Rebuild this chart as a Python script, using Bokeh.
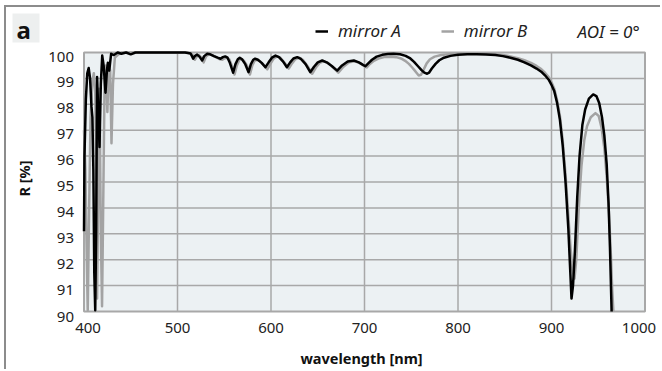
import math
from bokeh.plotting import figure
from bokeh.models import Range1d, Label, Legend, LegendItem, BoxAnnotation
from bokeh.core.properties import value
from bokeh.embed import file_html
from bokeh.resources import INLINE

# ---- data ----
wl_a = [400, 400.5, 402, 403.5, 405, 406.5, 408, 409, 410, 411, 412, 413, 414, 415, 416.6, 418, 419.5,
        421, 423, 424.5, 425.5, 427, 429, 432, 436, 440, 445, 450, 455, 460, 470, 480, 490, 500, 508,
        514, 515.5, 516.8, 518.5, 521, 523.5, 526.4, 528.5, 531.8, 535, 539, 543, 546, 548.5, 551, 553.5,
        556, 559.5, 562, 564.5, 566.6, 569, 572.5, 576, 578.5, 581, 583, 586, 590, 594, 597.5, 601, 604.8,
        608.5, 613, 617, 620.5, 624, 628, 632, 637, 642, 646, 650, 654.8, 659.5, 665, 670.8, 676, 682,
        688.6, 694, 698, 701, 704, 708, 713, 719, 725, 731, 738, 744, 749, 753, 757, 761, 764, 767, 769,
        772, 776, 780, 785, 792, 800, 810, 820, 830, 840, 848, 856, 864, 871, 878, 884, 889, 893, 897,
        900, 903, 906, 909, 912, 915, 918, 920, 921.4, 923, 925, 927.5, 930, 933, 936, 940, 944.6, 948,
        951, 954, 956.5, 959, 961, 962.5, 964.3]
r_a = [93.1, 96.0, 98.2, 99.2, 99.4, 99.0, 97.9, 97.5, 95.5, 91.5, 90.05, 93.0, 99.05, 98.0, 96.35, 98.8, 99.88,
       99.5, 98.45, 99.3, 99.6, 99.3, 99.95, 99.9, 100.0, 99.95, 100.0, 99.93, 100.0, 100.0, 100.0, 100.0, 100.0, 100.0, 100.0,
       99.96, 99.86, 99.76, 99.86, 99.92, 99.84, 99.69, 99.86, 99.95, 99.93, 99.86, 99.8, 99.76, 99.82, 99.85, 99.8,
       99.6, 99.22, 99.55, 99.74, 99.8, 99.74, 99.55, 99.24, 99.55, 99.72, 99.76, 99.72, 99.6, 99.43, 99.62, 99.8, 99.88,
       99.82, 99.65, 99.43, 99.62, 99.77, 99.82, 99.75, 99.55, 99.24, 99.45, 99.62, 99.69, 99.62, 99.48, 99.3, 99.5, 99.65,
       99.69, 99.62, 99.53, 99.47, 99.58, 99.72, 99.84, 99.91, 99.94, 99.95, 99.93, 99.87, 99.77, 99.64, 99.48, 99.32, 99.22, 99.18, 99.22,
       99.38, 99.56, 99.7, 99.8, 99.87, 99.91, 99.93, 99.93, 99.92, 99.9, 99.86, 99.8, 99.72, 99.62, 99.5, 99.38, 99.26, 99.12, 98.95,
       98.75, 98.5, 98.05, 97.4, 96.4, 95.0, 93.2, 91.6, 90.5, 91.0, 92.3, 94.4, 96.0, 97.2, 97.8, 98.22, 98.38, 98.32,
       98.05, 97.5, 96.8, 95.7, 94.2, 92.5, 90.0]

wl_b = [400, 401.5, 403, 404, 405.5, 407, 409, 410.5, 412, 413, 414, 415, 416, 417, 418, 419.3, 420.5,
        422, 423.5, 425, 426.5, 428, 429.4, 431, 433, 436, 440, 450, 460, 480, 500, 510,
        514, 517, 518.5, 520.5, 523, 525.5, 528, 530.5, 533.5, 537, 541, 545, 548, 550.5, 553, 555.5,
        558, 561, 563.5, 566, 568.5, 571, 574.5, 577.5, 580, 582.5, 585, 588, 592, 596, 599.5, 603, 606.5,
        610, 614.5, 619, 622.5, 626, 630, 634, 639, 644, 648, 652, 656.5, 661, 666.5, 672, 677.5, 683.5,
        690, 695.5, 699.5, 702.5, 705.5, 710, 716, 722, 728, 734, 739, 743.5, 747.5, 751, 754.5, 758, 760.5,
        763, 766.5, 770, 775, 782, 790, 800, 815, 830, 840, 848, 856, 864, 871, 878, 884, 889, 893, 897,
        900, 903, 906, 909, 912, 915, 918, 920.5, 922.5, 924.6, 926.5, 929, 932, 935, 938, 942, 947, 950.5,
        953.5, 956.5, 959, 961.5, 963.5, 965, 966.2]
r_b = [97.0, 95.5, 92.0, 90.05, 94.0, 97.5, 98.9, 99.2, 98.5, 96.0, 90.5, 94.0, 98.6, 97.0, 93.0, 90.2, 94.0,
       98.8, 99.5, 97.7, 99.5, 99.3, 96.5, 98.8, 99.8, 99.9, 100.0, 100.0, 100.0, 100.0, 100.0, 100.0,
       99.97, 99.88, 99.72, 99.84, 99.9, 99.8, 99.62, 99.84, 99.93, 99.9, 99.82, 99.74, 99.72, 99.78, 99.8, 99.73,
       99.5, 99.15, 99.5, 99.7, 99.75, 99.68, 99.48, 99.15, 99.5, 99.68, 99.72, 99.67, 99.53, 99.35, 99.57, 99.77, 99.85,
       99.8, 99.6, 99.38, 99.58, 99.74, 99.8, 99.72, 99.48, 99.18, 99.42, 99.6, 99.66, 99.6, 99.42, 99.22, 99.45, 99.62,
       99.66, 99.58, 99.48, 99.42, 99.55, 99.68, 99.78, 99.83, 99.84, 99.82, 99.77, 99.68, 99.56, 99.42, 99.27, 99.11, 99.14,
       99.32, 99.58, 99.74, 99.84, 99.9, 99.93, 99.95, 99.96, 99.95, 99.93, 99.9, 99.85, 99.78, 99.7, 99.6, 99.48, 99.36, 99.22, 99.05,
       98.85, 98.6, 98.15, 97.55, 96.6, 95.3, 93.7, 92.4, 91.6, 91.27, 92.0, 93.9, 95.6, 96.6, 97.15, 97.5, 97.66, 97.55,
       97.1, 96.3, 95.2, 93.8, 92.2, 90.8, 90.0]

x_ticks = [400, 500, 600, 700, 800, 900, 1000]
y_ticks = [90, 91, 92, 93, 94, 95, 96, 97, 98, 99, 100]
series_names = ["mirror A", "mirror B"]
aoi_text = "AOI = 0°"
panel_letter = "a"
x_title = "wavelength [nm]"
y_title = "R [%]"

FONT = "Noto Sans"
W, H = 656, 364          # canvas; placed at page (6, 7) by the CSS margin + border below
# plot-area geometry in canvas pixels
PL, PR, PT, PB = 77.5, 638.5, 45.0, 304.0
sx = (PR - PL) / (x_ticks[-1] - x_ticks[0])
sy = (PB - PT) / (y_ticks[-1] - y_ticks[0])
x_rng = Range1d(x_ticks[0] - PL / sx, x_ticks[-1] + (W - PR) / sx)
y_rng = Range1d(y_ticks[0] - (H - PB) / sy, y_ticks[-1] + PT / sy)

p = figure(width=W, height=H, output_backend="svg", toolbar_location=None,
           x_range=x_rng, y_range=y_rng, x_axis_location=None, y_axis_location=None,
           min_border=0)
p.styles = {"margin-left": "4px", "margin-top": "5px",
            "border-left": "2px solid #8C8C8C", "border-top": "2px solid #8C8C8C"}
p.grid.visible = False
p.background_fill_color = "white"
p.border_fill_color = "white"
p.outline_line_color = None

GRID = "#A8A8A8"
x0, x1, y0, y1 = x_ticks[0], x_ticks[-1], y_ticks[0], y_ticks[-1]
# plot area
p.quad(left=[x0], right=[x1], bottom=[y0], top=[y1], fill_color="#ECF1F3", line_color=None)
p.segment(x0=x_ticks[1:-1], y0=[y0] * (len(x_ticks) - 2), x1=x_ticks[1:-1], y1=[y1] * (len(x_ticks) - 2),
          line_color=GRID, line_width=1.5)
p.segment(x0=[x0] * (len(y_ticks) - 2), y0=y_ticks[1:-1], x1=[x1] * (len(y_ticks) - 2), y1=y_ticks[1:-1],
          line_color=GRID, line_width=1.5)
p.quad(left=[x0], right=[x1], bottom=[y0], top=[y1], fill_color=None, line_color=GRID, line_width=2)

# curves
rb = p.line(wl_b, r_b, line_color="#A3A3A3", line_width=2.5, line_join="round")
ra = p.line(wl_a, r_a, line_color="#000000", line_width=2.5, line_join="round")

# tick labels
y_lab_dy = [5 if t == y0 else 4 for t in y_ticks]
p.text(x=[x0] * len(y_ticks), y=y_ticks, text=[str(t) for t in y_ticks], x_offset=-10, y_offset=y_lab_dy,
       text_align="right", text_baseline="middle", text_font=value(FONT), text_font_size="15px",
       text_color="#222222")
x_lab_dx = [4 if t == x0 else (-6 if t == x1 else 0) for t in x_ticks]
p.text(x=x_ticks, y=[y0] * len(x_ticks), text=[str(t) for t in x_ticks], x_offset=x_lab_dx, y_offset=16,
       text_align="center", text_baseline="middle", text_font=value(FONT), text_font_size="15px",
       text_color="#222222")

# axis titles (screen units: from canvas left / bottom)
p.add_layout(Label(x=355, y=14, x_units="screen", y_units="screen", text=x_title,
                   text_align="center", text_baseline="middle", text_font=FONT,
                   text_font_size="14.5px", text_font_style="bold", text_color="#111111"))
p.add_layout(Label(x=17, y=193, x_units="screen", y_units="screen", text=y_title, angle=math.pi / 2,
                   text_align="center", text_baseline="middle", text_font=FONT,
                   text_font_size="14.5px", text_font_style="bold", text_color="#111111"))

# legend
legend = Legend(items=[LegendItem(label=series_names[0], renderers=[ra]),
                       LegendItem(label=series_names[1], renderers=[rb])],
                location=(309, 329), orientation="horizontal",
                glyph_width=13, glyph_height=20, label_height=20, label_standoff=10, spacing=40,
                padding=0, margin=0, border_line_color=None, background_fill_alpha=0,
                label_text_font=FONT, label_text_font_size="17px", label_text_font_style="italic",
                label_text_color="#222222")
p.add_layout(legend)

p.add_layout(Label(x=571, y=340, x_units="screen", y_units="screen", text=aoi_text,
                   text_baseline="middle", text_font=FONT, text_font_size="17px",
                   text_font_style="italic", text_color="#222222"))

# panel letter in its light box
p.add_layout(BoxAnnotation(left=6, right=33, bottom=329, top=358, left_units="screen", right_units="screen",
                           bottom_units="screen", top_units="screen", fill_color="#EDEFEF", fill_alpha=1,
                           line_color=None))
p.add_layout(Label(x=10, y=342, x_units="screen", y_units="screen", text=panel_letter,
                   text_baseline="middle", text_font=FONT, text_font_size="24px",
                   text_font_style="bold", text_color="#111111"))

open("out.html", "w").write(file_html(p, INLINE))
